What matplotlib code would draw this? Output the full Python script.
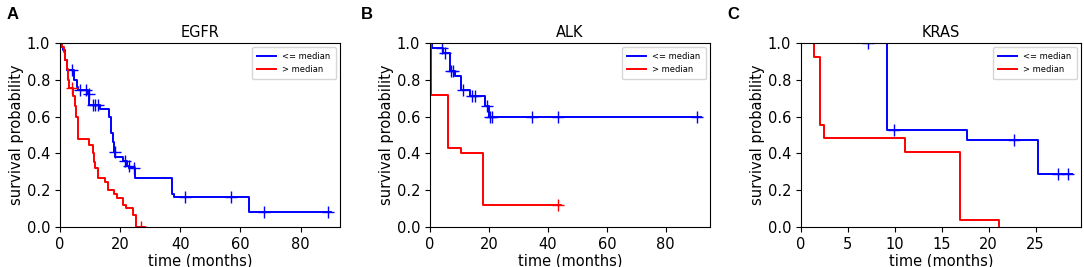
import numpy as np
import matplotlib
matplotlib.use("Agg")
import matplotlib.pyplot as plt

# Kaplan-Meier curves: step times, survival after each step,
# last follow-up time and censoring times
genes = ["EGFR", "ALK", "KRAS"]
panel_letters = ["A", "B", "C"]
group_labels = ["<= median", "> median"]

egfr_low_t = [0, 0.6, 1.1, 1.7, 2.3, 4.7, 5.5, 6.0, 9.3, 9.8, 13.3, 16.4, 16.8, 17.6, 18.0, 18.4,
              20.9, 22.3, 23.0, 25.1, 37.2, 38.0, 62.9]
egfr_low_s = [1.0, 0.98, 0.96, 0.91, 0.855, 0.80, 0.76, 0.745, 0.725, 0.665, 0.64, 0.60, 0.51, 0.46,
              0.41, 0.38, 0.36, 0.33, 0.32, 0.265, 0.18, 0.165, 0.08]
egfr_low_end = 90.0
egfr_low_cens = [4.0, 6.5, 8.7, 9.5, 10.9, 11.7, 12.8, 18.2, 21.5, 22.8, 24.5, 41.5, 57.0, 68.0, 89.0]

egfr_high_t = [0, 0.6, 1.2, 1.7, 2.2, 2.7, 3.0, 4.4, 4.9, 5.3, 6.1, 9.8, 10.9, 11.3, 11.7, 12.8,
               14.8, 16.1, 17.8, 18.9, 20.9, 22.0, 24.4, 25.3]
egfr_high_s = [1.0, 0.98, 0.95, 0.91, 0.86, 0.80, 0.755, 0.71, 0.655, 0.60, 0.48, 0.445, 0.40,
               0.355, 0.32, 0.265, 0.245, 0.20, 0.18, 0.16, 0.12, 0.105, 0.064, 0.0]
egfr_high_end = 28.2
egfr_high_cens = [3.9, 26.9]

alk_low_t = [0, 0.6, 4.5, 6.8, 8.5, 10.5, 13.6, 18.6, 20.1]
alk_low_s = [1.0, 0.975, 0.945, 0.85, 0.82, 0.745, 0.71, 0.66, 0.60]
alk_low_end = 91.9
alk_low_cens = [4.0, 5.1, 7.2, 7.9, 11.3, 14.1, 15.3, 19.5, 20.4, 20.9, 34.5, 43.3, 90.7]

alk_high_t = [0, 0.3, 6.2, 10.5, 17.9]
alk_high_s = [1.0, 0.715, 0.43, 0.40, 0.118]
alk_high_end = 44.6
alk_high_cens = [43.3]

kras_low_t = [0, 9.2, 17.7, 25.3]
kras_low_s = [1.0, 0.527, 0.475, 0.287]
kras_low_end = 28.9
kras_low_cens = [7.1, 9.9, 22.7, 27.4, 28.4]

kras_high_t = [0, 1.4, 2.05, 2.4, 11.1, 16.9, 21.1]
kras_high_s = [1.0, 0.925, 0.555, 0.482, 0.41, 0.037, 0.0]
kras_high_end = 21.1
kras_high_cens = []

x_max = [93.0, 94.9, 29.8]
x_ticks = [[0, 20, 40, 60, 80], [0, 20, 40, 60, 80], [0, 5, 10, 15, 20, 25]]


def draw_km(ax, t, s, end, cens, color, label):
    t = np.asarray(t, dtype=float)
    s = np.asarray(s, dtype=float)
    ax.step(np.append(t, end), np.append(s, s[-1]), where="post", color=color, lw=1.4, label=label)
    if len(cens):
        idx = np.searchsorted(t, cens, side="right") - 1
        ax.plot(cens, s[idx], ls="none", marker="+", ms=8, mew=1.0, color=color, clip_on=True)


panels = [
    [(egfr_low_t, egfr_low_s, egfr_low_end, egfr_low_cens),
     (egfr_high_t, egfr_high_s, egfr_high_end, egfr_high_cens)],
    [(alk_low_t, alk_low_s, alk_low_end, alk_low_cens),
     (alk_high_t, alk_high_s, alk_high_end, alk_high_cens)],
    [(kras_low_t, kras_low_s, kras_low_end, kras_low_cens),
     (kras_high_t, kras_high_s, kras_high_end, kras_high_cens)],
]

fig = plt.figure(figsize=(10.84, 2.67), dpi=100)
lefts = [60 / 1084, 430 / 1084, 801 / 1084]
letter_x = [7 / 1084, 361 / 1084, 727 / 1084]

for i, gene in enumerate(genes):
    ax = fig.add_axes([lefts[i], 0.150, 0.258, 0.689])
    for (t, s, end, cens), color, label in zip(panels[i], ["blue", "red"], group_labels):
        draw_km(ax, t, s, end, cens, color, label)
    ax.set_xlim(0, x_max[i])
    ax.set_ylim(0, 1.0)
    ax.set_xticks(x_ticks[i])
    ax.set_yticks([0.0, 0.2, 0.4, 0.6, 0.8, 1.0])
    ax.tick_params(labelsize=10.5)
    ax.set_xlabel("time (months)", fontsize=10.5, labelpad=1)
    ax.set_ylabel("survival probability", fontsize=10.5, labelpad=2)
    ax.set_title(gene, fontsize=10.5, pad=4)
    ax.legend(loc="upper right", fontsize=6, handlelength=2.2, borderpad=0.6)
    fig.text(letter_x[i], 0.945, panel_letters[i], fontsize=12, fontweight="bold",
             family="Liberation Sans", va="center")

fig.savefig("out.png", dpi=100)
